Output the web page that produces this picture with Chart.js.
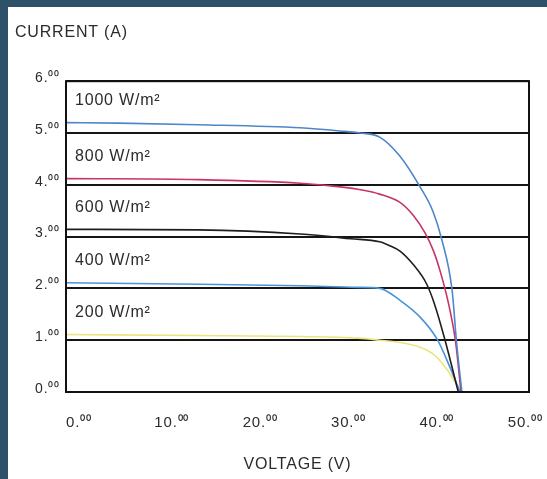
<!DOCTYPE html>
<html>
<head>
<meta charset="utf-8">
<script src="https://cdn.jsdelivr.net/npm/chart.js@4.4.1/dist/chart.umd.min.js"></script>
<style>
  html, body { margin: 0; padding: 0; background: #2d5169; }
  body { width: 547px; height: 479px; overflow: hidden; position: relative; }
  #panel { position: absolute; left: 8px; top: 7px; right: 0; bottom: 0; background: #ffffff; }
  #iv { position: absolute; left: 0; top: 0; }
</style>
</head>
<body>
<div id="panel"></div>
<canvas id="iv" width="547" height="479"></canvas>
<script>
// Axis ticks
const voltageTicks = [0, 10, 20, 30, 40, 50];
const currentTicks = [0, 1, 2, 3, 4, 5, 6];

// I-V curves per irradiance level: voltage (V) and current (A)
const irradianceLabels = ['1000 W/m²', '800 W/m²', '600 W/m²', '400 W/m²', '200 W/m²'];

const voltage1000 = [0, 6, 15, 26.5, 31, 33.3, 35.5, 37.8, 40.0, 41.5, 42.5, 43.7, 44.2, 44.8];
const current1000 = [5.20, 5.19, 5.16, 5.10, 5.04, 5.00, 4.92, 4.55, 3.98, 3.50, 2.96, 1.96, 0.96, 0];

const voltage800 = [0, 15, 26.5, 31, 33.5, 35.5, 37.8, 39.25, 40.6, 41.6, 42.4, 43.3, 44.1, 44.7];
const current800 = [4.12, 4.10, 4.03, 3.96, 3.90, 3.82, 3.66, 3.42, 3.08, 2.72, 2.30, 1.70, 0.96, 0];

const voltage600 = [0, 15, 26.5, 32.2, 35.5, 36.7, 37.8, 39.25, 40.8, 41.7, 42.9, 44.4];
const current600 = [3.14, 3.13, 3.05, 2.96, 2.90, 2.82, 2.72, 2.47, 2.09, 1.70, 1.00, 0];

const voltage400 = [0, 15, 26.5, 33, 35.5, 37.8, 40.05, 42.0, 43.4, 44.6];
const current400 = [2.11, 2.08, 2.05, 2.02, 2.00, 1.77, 1.45, 1.02, 0.50, 0];

const voltage200 = [0, 15, 26.5, 33, 35.5, 38, 40, 41.5, 42.6, 43.8, 44.6];
const current200 = [1.11, 1.09, 1.07, 1.04, 1.00, 0.95, 0.87, 0.74, 0.55, 0.26, 0];

const seriesColors = ['#4f86c8', '#c8336a', '#1e1e1e', '#4b93d8', '#ebe47e'];

const toPoints = (vs, is) => vs.map((v, k) => ({ x: v, y: is[k] }));
const curves = [
  toPoints(voltage1000, current1000),
  toPoints(voltage800, current800),
  toPoints(voltage600, current600),
  toPoints(voltage400, current400),
  toPoints(voltage200, current200)
];

const FONT = '"Liberation Sans", Arial, Helvetica, sans-serif';
const INK = '#2b2b2b';
const TRACKING = '0.8px';

// Slightly tracked-out lettering for every label on the canvas
const trackingPlugin = {
  id: 'tracking',
  beforeLayout(chart) { chart.ctx.letterSpacing = TRACKING; },
  beforeDraw(chart) { chart.ctx.letterSpacing = TRACKING; }
};

// Box around the plotting area
const framePlugin = {
  id: 'frame',
  afterDatasetsDraw(chart) {
    const { ctx, chartArea: a } = chart;
    ctx.save();
    ctx.strokeStyle = '#111';
    ctx.lineWidth = 2;
    ctx.strokeRect(a.left, a.top, a.right - a.left, a.bottom - a.top);
    ctx.restore();
  }
};

// Irradiance captions above each curve
const captionPlugin = {
  id: 'captions',
  afterDatasetsDraw(chart) {
    const { ctx } = chart;
    const xs = chart.scales.x, ys = chart.scales.y;
    ctx.save();
    ctx.fillStyle = INK;
    ctx.font = '16px ' + FONT;
    ctx.textAlign = 'left';
    ctx.textBaseline = 'middle';
    chart.data.datasets.forEach((ds) => {
      const first = ds.data[0];
      ctx.fillText(ds.label, xs.getPixelForValue(0) + 9, ys.getPixelForValue(first.y) - 22);
    });
    ctx.restore();
  }
};

new Chart(document.getElementById('iv'), {
  type: 'line',
  data: {
    datasets: curves.map((pts, k) => ({
      label: irradianceLabels[k],
      data: pts,
      borderColor: seriesColors[k],
      borderWidth: 1.6,
      pointRadius: 0,
      fill: false,
      cubicInterpolationMode: 'monotone'
    }))
  },
  options: {
    responsive: false,
    animation: false,
    devicePixelRatio: 1,
    layout: { padding: { left: 15, right: 18, top: 0, bottom: 0 } },
    plugins: {
      legend: { display: false },
      tooltip: { enabled: false },
      title: {
        display: true,
        text: 'CURRENT (A)',
        align: 'start',
        color: INK,
        font: { family: FONT, size: 16, weight: 'normal', lineHeight: 1.2 },
        padding: { top: 23, bottom: 39 }
      }
    },
    scales: {
      x: {
        type: 'linear',
        min: 0,
        max: 52.4,
        afterBuildTicks: (s) => { s.ticks = voltageTicks.map(v => ({ value: v })); },
        afterFit: (s) => { s.height = 87; s.paddingLeft = 0; s.paddingRight = 0; },
        grid: { display: false, drawTicks: false },
        border: { display: false },
        ticks: {
          align: 'start',
          padding: 22,
          maxRotation: 0,
          color: INK,
          font: { family: FONT, size: 15 },
          callback: (v) => v + '.⁰⁰'
        },
        title: {
          display: true,
          text: 'VOLTAGE (V)',
          color: INK,
          font: { family: FONT, size: 16 },
          padding: { top: 0, bottom: 5 }
        }
      },
      y: {
        type: 'linear',
        min: 0,
        max: 6,
        afterBuildTicks: (s) => { s.ticks = currentTicks.map(v => ({ value: v })); },
        afterFit: (s) => { s.width = 51; s.paddingTop = 0; s.paddingBottom = 0; },
        grid: { color: '#151515', lineWidth: 2, drawTicks: false },
        border: { display: false },
        ticks: {
          padding: 6,
          labelOffset: -3,
          color: INK,
          font: { family: FONT, size: 14 },
          callback: (v) => v + '.⁰⁰'
        }
      }
    }
  },
  plugins: [trackingPlugin, framePlugin, captionPlugin]
});
</script>
</body>
</html>
